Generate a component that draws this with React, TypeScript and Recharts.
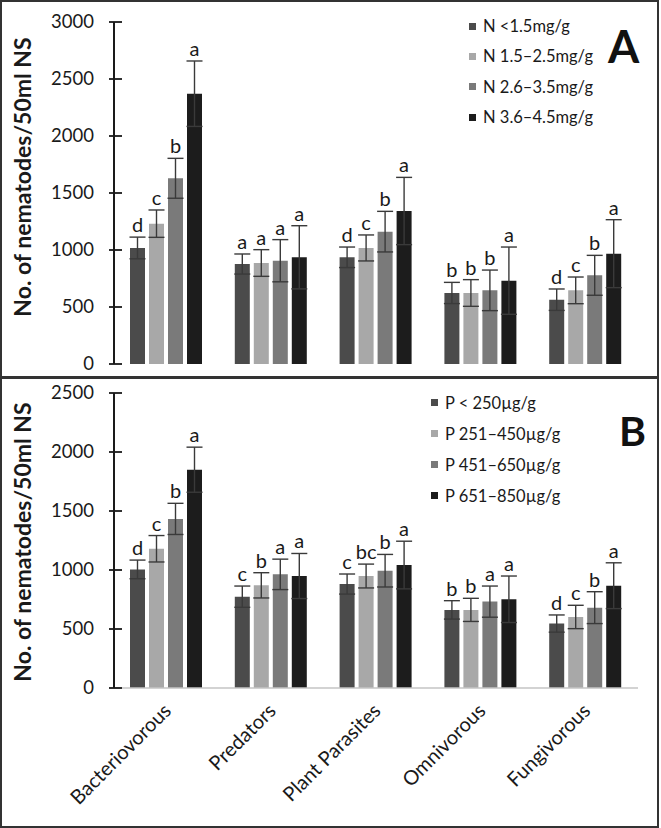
import { BarChart, Bar, XAxis, YAxis, ErrorBar, LabelList, Legend } from 'recharts';

const FONT = 'Lato, "Liberation Sans", sans-serif';

const categories = ['Bacteriovorous', 'Predators', 'Plant Parasites', 'Omnivorous', 'Fungivorous'];

// panel A - nitrogen classes
const nNames = ['N <1.5mg/g', 'N 1.5–2.5mg/g', 'N 2.6–3.5mg/g', 'N 3.6–4.5mg/g'];
const n1Mean = [1018, 877, 936, 623, 564];
const n2Mean = [1231, 886, 1018, 623, 646];
const n3Mean = [1629, 906, 1161, 646, 778];
const n4Mean = [2371, 936, 1342, 731, 968];
const n1Err = [95, 88, 90, 93, 94];
const n2Err = [120, 117, 114, 117, 117];
const n3Err = [175, 185, 178, 178, 175];
const n4Err = [287, 277, 295, 295, 298];
const n1Sig = ['d', 'a', 'd', 'b', 'd'];
const n2Sig = ['c', 'a', 'c', 'b', 'c'];
const n3Sig = ['b', 'a', 'b', 'b', 'b'];
const n4Sig = ['a', 'a', 'a', 'a', 'a'];
const nTicks = [0, 500, 1000, 1500, 2000, 2500, 3000];

// panel B - phosphorus classes
const pNames = ['P < 250µg/g', 'P 251–450µg/g', 'P 451–650µg/g', 'P 651–850µg/g'];
const p1Mean = [1005, 774, 881, 662, 546];
const p2Mean = [1180, 870, 949, 662, 602];
const p3Mean = [1433, 963, 994, 732, 681];
const p4Mean = [1850, 949, 1042, 752, 867];
const p1Err = [79, 90, 85, 78, 73];
const p2Err = [112, 107, 101, 98, 99];
const p3Err = [132, 129, 138, 132, 135];
const p4Err = [191, 191, 202, 197, 194];
const p1Sig = ['d', 'c', 'c', 'b', 'd'];
const p2Sig = ['c', 'b', 'bc', 'b', 'c'];
const p3Sig = ['b', 'a', 'b', 'a', 'b'];
const p4Sig = ['a', 'a', 'a', 'a', 'a'];
const pTicks = [0, 500, 1000, 1500, 2000, 2500];

const barColors = ['#4b4b4b', '#a8a8a8', '#7a7a7a', '#1c1c1c'];

function makeRows(means: number[][], errs: number[][], sigs: string[][]) {
  return categories.map((name, i) => {
    const row: Record<string, any> = { name };
    means.forEach((m, s) => {
      row['m' + s] = m[i];
      row['e' + s] = errs[s][i];
      row['t' + s] = `${sigs[s][i]}|${errs[s][i]}|${m[i]}`;
    });
    return row;
  });
}

const rowsA = makeRows([n1Mean, n2Mean, n3Mean, n4Mean], [n1Err, n2Err, n3Err, n4Err], [n1Sig, n2Sig, n3Sig, n4Sig]);
const rowsB = makeRows([p1Mean, p2Mean, p3Mean, p4Mean], [p1Err, p2Err, p3Err, p4Err], [p1Sig, p2Sig, p3Sig, p4Sig]);

// letter sits above the error bar cap; px per unit taken from the bar itself
const renderLetter = (p: any) => {
  const vb = p.viewBox || {};
  const x = p.x ?? vb.x;
  const y = p.y ?? vb.y;
  const w = p.width ?? vb.width;
  const h = p.height ?? vb.height;
  const [sig, err, mean] = String(p.value).split('|');
  const errPx = (Number(err) * h) / Number(mean);
  return (
    <text x={x + w / 2} y={y - errPx - 5} textAnchor="middle" fontSize={20} fill="#1a1a1a">
      {sig}
    </text>
  );
};

const YTick = (p: any) => (
  <g>
    <line x1={p.x + 15} x2={p.x + 28} y1={p.y} y2={p.y} stroke="#1a1a1a" strokeWidth={1.8} />
    <text x={p.x} y={p.y} dy={6} textAnchor="end" fontSize={18.5} fill="#1a1a1a">
      {p.payload.value}
    </text>
  </g>
);

const XTick = (p: any) => {
  const x = p.x + 6;
  const y = p.y + 14;
  return (
    <text x={x} y={y} transform={`rotate(-45 ${x} ${y})`} textAnchor="end" fontSize={20} fill="#1a1a1a">
      {p.payload.value}
    </text>
  );
};

const yLabel = (cy: number) => () => (
  <text
    x={31}
    y={cy}
    transform={`rotate(-90 31 ${cy})`}
    textAnchor="middle"
    fontSize={23}
    fontWeight={700}
    fill="#1a1a1a"
  >
    No. of nematodes/50ml NS
  </text>
);

const legendContent = (names: string[], rowH: number) => () => (
  <div style={{ fontFamily: FONT, fontSize: 16.5, color: '#1a1a1a' }}>
    {names.map((n, i) => (
      <div key={n} style={{ display: 'flex', alignItems: 'center', height: rowH, whiteSpace: 'nowrap' }}>
        <span style={{ display: 'inline-block', width: 7, height: 7, background: barColors[i], marginRight: 7 }} />
        {n}
      </div>
    ))}
  </div>
);

type PanelProps = {
  rows: Record<string, any>[];
  names: string[];
  ticks: number[];
  height: number;
  top: number;
  bottom: number;
  showX: boolean;
  labelY: number;
  legendLeft: number;
  legendTop: number;
  rowH: number;
};

function Panel({ rows, names, ticks, height, top, bottom, showX, labelY, legendLeft, legendTop, rowH }: PanelProps) {
  return (
    <BarChart
      width={661}
      height={height}
      data={rows}
      margin={{ top, right: 23, bottom, left: 44 }}
      barGap={4}
      style={{ fontFamily: FONT }}
    >
      <XAxis
        dataKey="name"
        hide={!showX}
        height={showX ? 130 : 0}
        interval={0}
        tickLine={false}
        tickSize={0}
        tickMargin={10}
        axisLine={{ stroke: '#c4c4c4', strokeWidth: 1.5 }}
        tick={<XTick />}
      />
      <YAxis
        width={70}
        domain={[0, ticks[ticks.length - 1]]}
        ticks={ticks}
        interval={0}
        tickLine={false}
        tickSize={0}
        tickMargin={20}
        axisLine={{ stroke: '#1a1a1a', strokeWidth: 2 }}
        tick={<YTick />}
        label={yLabel(labelY)}
      />
      <Legend
        layout="vertical"
        align="center"
        verticalAlign="middle"
        wrapperStyle={{ left: legendLeft, top: legendTop, width: 200, height: rowH * 4 }}
        content={legendContent(names, rowH)}
      />
      {[0, 1, 2, 3].map((s) => (
        <Bar key={s} dataKey={'m' + s} name={names[s]} fill={barColors[s]} barSize={15} isAnimationActive={false}>
          <ErrorBar dataKey={'e' + s} width={8} stroke="#3a3a3a" strokeWidth={1.4} isAnimationActive={false} />
          <LabelList dataKey={'t' + s} content={renderLetter} />
        </Bar>
      ))}
    </BarChart>
  );
}

const tagStyle = {
  position: 'absolute' as const,
  fontFamily: FONT,
  fontWeight: 700,
  lineHeight: 1,
  color: '#111',
};

export default function App() {
  return (
    <div style={{ position: 'absolute', left: 0, top: 0, width: 661, height: 828, background: '#fff' }}>
      <div style={{ position: 'absolute', left: 0, top: 0, width: 659, height: 378, border: '2px solid #333', boxSizing: 'border-box' }} />
      <div style={{ position: 'absolute', left: 0, top: 377, width: 659, height: 451, border: '2px solid #333', boxSizing: 'border-box' }} />
      <div style={{ position: 'absolute', left: 0, top: 0 }}>
        <Panel
          rows={rowsA}
          names={nNames}
          ticks={nTicks}
          height={379}
          top={22}
          bottom={15}
          showX={false}
          labelY={177}
          legendLeft={469}
          legendTop={11}
          rowH={30.3}
        />
      </div>
      <div style={{ position: 'absolute', left: 0, top: 379 }}>
        <Panel
          rows={rowsB}
          names={pNames}
          ticks={pTicks}
          height={447}
          top={14}
          bottom={8}
          showX={true}
          labelY={163}
          legendLeft={431}
          legendTop={8}
          rowH={31}
        />
      </div>
      <div style={{ ...tagStyle, left: 608, top: 24, fontSize: 45 }}>A</div>
      <div style={{ ...tagStyle, left: 619, top: 410, fontSize: 41 }}>B</div>
    </div>
  );
}
